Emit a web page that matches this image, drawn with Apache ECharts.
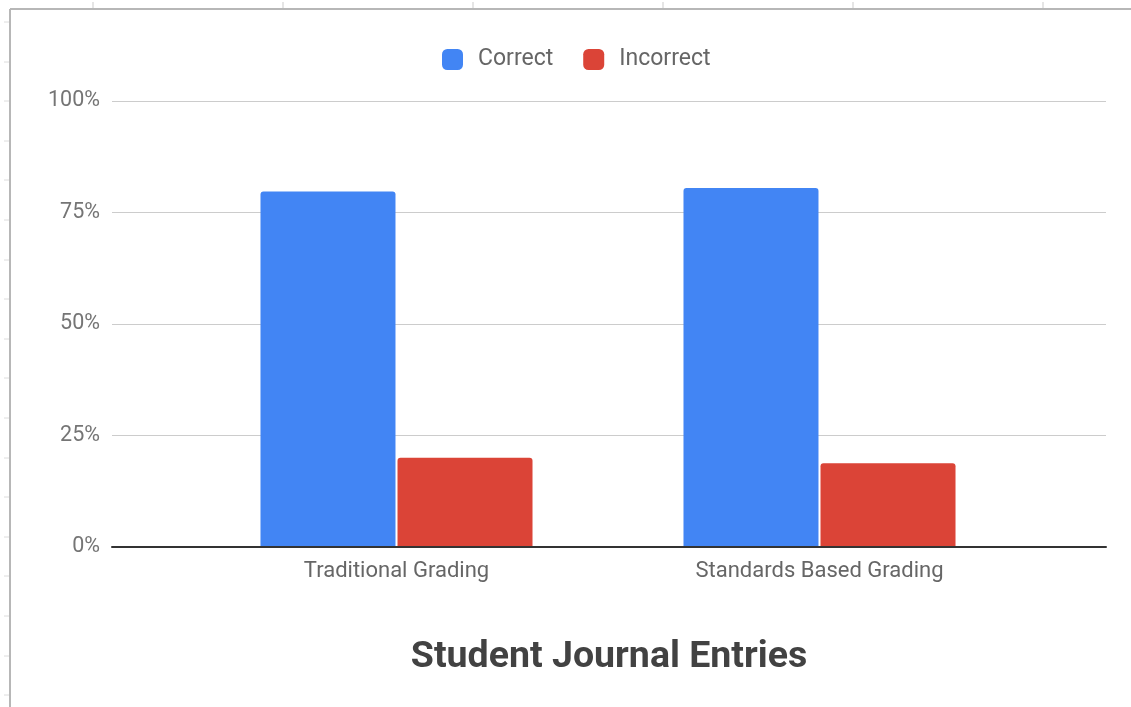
<!DOCTYPE html>
<html>
<head>
<meta charset="utf-8">
<script src="https://cdn.jsdelivr.net/npm/echarts@6/dist/echarts.min.js"></script>
<style>
  html, body { margin: 0; padding: 0; background: #fff; }
  #chart { width: 1131px; height: 707px; }
</style>
</head>
<body>
<div id="chart"></div>
<script>
var categories = ['Traditional Grading', 'Standards Based Grading'];
var correctValues = [79.7, 80.5];
var incorrectValues = [20.0, 18.8];
var yTicks = [0, 25, 50, 75, 100];

// spreadsheet frame around the chart (just decoration)
var frame = [
    {type: 'line', shape: {x1: 10, y1: 9, x2: 1131, y2: 9}, style: {stroke: '#b7b7b7', lineWidth: 2}},
    {type: 'line', shape: {x1: 10, y1: 9, x2: 10, y2: 707}, style: {stroke: '#b7b7b7', lineWidth: 2}}
];
[93, 283, 473, 663, 853, 1043].forEach(function (x) {
    frame.push({type: 'line', shape: {x1: x, y1: 2, x2: x, y2: 8}, style: {stroke: '#dcdcdc', lineWidth: 1.5}});
});
for (var y = 22; y < 707; y += 39.6) {
    frame.push({type: 'line', shape: {x1: 4, y1: Math.round(y), x2: 9, y2: Math.round(y)}, style: {stroke: '#dcdcdc', lineWidth: 1}});
}

var myChart = echarts.init(document.getElementById('chart'));
var option = {
    backgroundColor: '#fff',
    animation: false,
    textStyle: {fontFamily: 'Roboto'},
    graphic: frame,
    title: {
        text: 'Student Journal Entries',
        left: 604,
        textAlign: 'center',
        top: 634,
        textStyle: {fontSize: 37.5, fontWeight: 'bold', color: '#424242', fontFamily: 'Roboto'}
    },
    legend: {
        data: ['Correct', 'Incorrect'],
        top: 43,
        left: 437,
        itemWidth: 21,
        itemHeight: 21,
        itemGap: 30,
        icon: 'roundRect',
        textStyle: {fontSize: 23, color: '#666', padding: [0, 0, 0, 10]}
    },
    grid: [
        {left: 112, right: 25, top: 101, bottom: 160},
        {left: 185, right: 100, top: 101, bottom: 160}
    ],
    xAxis: [
        {
            gridIndex: 0,
            type: 'category',
            data: categories,
            axisLine: {lineStyle: {color: '#333', width: 2}},
            axisTick: {show: false},
            axisLabel: {show: false},
            z: 10
        },
        {
            gridIndex: 1,
            type: 'category',
            data: categories,
            axisLine: {show: false},
            axisTick: {show: false},
            axisLabel: {fontSize: 22, color: '#666', margin: 13}
        }
    ],
    yAxis: [
        {
            gridIndex: 0,
            type: 'value',
            min: yTicks[0],
            max: yTicks[yTicks.length - 1],
            interval: 25,
            axisLine: {show: false},
            axisTick: {show: false},
            axisLabel: {fontSize: 21.5, color: '#757575', margin: 12, padding: [6, 0, 0, 0], formatter: '{value}%'},
            splitLine: {lineStyle: {color: '#cccccc', width: 1}}
        },
        {
            gridIndex: 1,
            type: 'value',
            min: 0,
            max: 100,
            show: false,
            splitLine: {show: false}
        }
    ],
    series: [
        {
            name: 'Correct',
            type: 'bar',
            xAxisIndex: 1,
            yAxisIndex: 1,
            barWidth: 135,
            barGap: '1.5%',
            itemStyle: {color: '#4285f4', borderRadius: [3, 3, 0, 0]},
            data: correctValues
        },
        {
            name: 'Incorrect',
            type: 'bar',
            xAxisIndex: 1,
            yAxisIndex: 1,
            barWidth: 135,
            barGap: '1.5%',
            itemStyle: {color: '#db4437', borderRadius: [3, 3, 0, 0]},
            data: incorrectValues
        }
    ]
};
myChart.setOption(option);
</script>
</body>
</html>
